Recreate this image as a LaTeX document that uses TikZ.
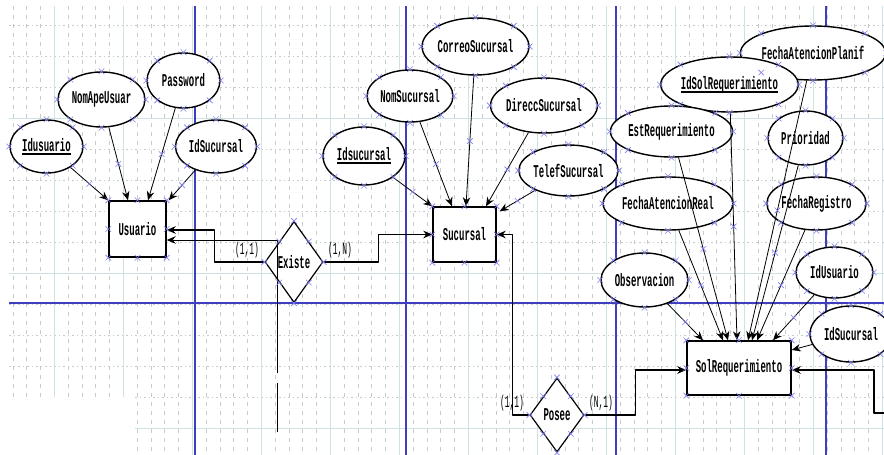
\documentclass[tikz,border=0pt]{standalone}
\usepackage{fontspec}
\newfontfamily\erfont[FakeStretch=0.5]{Liberation Mono}
\newfontfamily\cardfont[FakeStretch=0.47]{Liberation Mono}
\usetikzlibrary{shapes.geometric,shapes.misc,arrows.meta}
\definecolor{pageblue}{RGB}{62,62,190}
\definecolor{markblue}{RGB}{125,125,235}
\definecolor{gridgray}{RGB}{196,204,204}
\definecolor{gridmajor}{RGB}{206,226,228}
\newcommand\keyattr[1]{\setbox0\hbox{#1}\rlap{\rule[-3.5pt]{\wd0}{1.8pt}}\box0}
\begin{document}
\begin{tikzpicture}[x=1pt,y=-1pt,line join=round,>={Stealth[length=9pt,width=7.5pt]},
    font=\erfont\bfseries\fontsize{18}{18}\selectfont,
    attr/.style={ellipse,draw,fill=white,line width=1.4pt,inner sep=0pt},
    entity/.style={rectangle,draw,fill=white,line width=1.4pt,inner sep=0pt},
    relation/.style={diamond,draw,fill=white,line width=1.2pt,inner sep=0pt},
    link/.style={line width=0.8pt},
    rellink/.style={line width=1.5pt},
    xmk/.style={cross out,draw=markblue,line width=0.6pt,minimum size=5pt,inner sep=0pt},
    card/.style={font=\cardfont\fontsize{17}{17}\selectfont}]
    \useasboundingbox (0,0) rectangle (884,455);
    % grid of the drawing sheet
    \foreach \x in {12.9,26.7,...,884} \draw[gridgray,line width=0.6pt,dash pattern=on 4pt off 5pt] (\x,6) -- (\x,455);
    \foreach \y in {25,56,...,455} \draw[gridgray,line width=0.7pt,dash pattern=on 1.5pt off 3pt] (9,\y) -- (884,\y);
    \foreach \x in {54,123,...,884} \draw[gridmajor,line width=0.8pt] (\x,6) -- (\x,455);
    \foreach \y in {118,273,428} \draw[gridmajor,line width=0.8pt] (9,\y) -- (884,\y);
    \fill[white] (0,397) rectangle (135,455);
    \foreach \x in {195,406,616,826} \draw[pageblue,line width=1.3pt] (\x,6) -- (\x,455);
    \draw[pageblue,line width=1.6pt] (9,303) -- (884,303);

    % Usuario
    \node[attr,minimum width=73pt,minimum height=53pt] (idusuario) at (46.5,146.5) {\keyattr{Idusuario}};
    \node[attr,minimum width=87pt,minimum height=55pt] (nomapeusuar) at (101.5,99.5) {NomApeUsuar};
    \node[attr,minimum width=73pt,minimum height=55pt] (password) at (183.5,80.5) {Password};
    \node[attr,minimum width=81pt,minimum height=53pt] (idsucursalU) at (216,146.5) {IdSucursal};
    \node[entity,minimum width=57pt,minimum height=56pt] (usuario) at (137.5,229) {Usuario};

    % Sucursal
    \node[attr,minimum width=82pt,minimum height=58pt] (idsucursal) at (364,156) {\keyattr{Idsucursal}};
    \node[attr,minimum width=86pt,minimum height=52pt] (nomsucursal) at (410,96) {NomSucursal};
    \node[attr,minimum width=103pt,minimum height=57pt] (correosucursal) at (475.5,46.5) {CorreoSucursal};
    \node[attr,minimum width=102pt,minimum height=55pt] (direccsucursal) at (544,105.5) {DireccSucursal};
    \node[attr,minimum width=93pt,minimum height=51pt] (telefsucursal) at (568.5,170.5) {TelefSucursal};
    \node[entity,minimum width=63pt,minimum height=55pt] (sucursal) at (464.5,234.5) {Sucursal};

    % SolRequerimiento
    \node[attr,minimum width=128pt,minimum height=54pt] (fechaplanif) at (813,53) {FechaAtencionPlanif};
    \node[attr,minimum width=125pt,minimum height=55pt] (idsolreq) at (729.5,84.5) {\keyattr{IdSolRequerimiento}};
    \node[attr,minimum width=111pt,minimum height=51pt] (estreq) at (671.5,131.5) {EstRequerimiento};
    \node[attr,minimum width=75pt,minimum height=54pt] (prioridad) at (805.5,138) {Prioridad};
    \node[attr,minimum width=118pt,minimum height=53pt] (fechareal) at (668,203.5) {FechaAtencionReal};
    \node[attr,minimum width=97pt,minimum height=53pt] (fecharegistro) at (816.5,203.5) {FechaRegistro};
    \node[attr,minimum width=87pt,minimum height=54pt] (observacion) at (644.5,280) {Observacion};
    \node[attr,minimum width=77pt,minimum height=51pt] (idusuarioS) at (834.5,272.5) {IdUsuario};
    \node[attr,minimum width=82pt,minimum height=56pt] (idsucursalS) at (851,334) {IdSucursal};
    \node[entity,minimum width=104pt,minimum height=54pt] (solreq) at (739,368) {SolRequerimiento};

    % relaciones
    \node[relation,minimum width=58pt,minimum height=81pt] (existe) at (294,262) {Existe};
    \node[relation,minimum width=54pt,minimum height=74pt] (posee) at (557,415) {Posee};

    \draw[link,->] (idusuario) -- node[xmk]{} (usuario.north west);
    \draw[link,->] (nomapeusuar) -- node[xmk]{} ([xshift=-9.5pt]usuario.north);
    \draw[link,->] (password) -- node[xmk]{} ([xshift=10.5pt]usuario.north);
    \draw[link,->] (idsucursalU) -- node[xmk]{} ([xshift=2pt]usuario.north east);

    \draw[link,->] (idsucursal) -- node[xmk]{} (sucursal.north west);
    \draw[link,->] (nomsucursal) -- node[xmk]{} ([xshift=-12.5pt]sucursal.north);
    \draw[link,->] (correosucursal) -- node[xmk]{} ([xshift=1.5pt]sucursal.north);
    \draw[link,->] (direccsucursal) -- node[xmk]{} ([xshift=21.5pt]sucursal.north);
    \draw[link,->] (telefsucursal) -- node[xmk]{} ([xshift=3pt,yshift=-5pt]sucursal.north east);

    \draw[link,->] (observacion) -- node[xmk]{} ([xshift=-36pt]solreq.north);
    \draw[link,->] (fechareal) -- node[xmk]{} ([xshift=-16pt]solreq.north);
    \draw[link,->] (estreq) -- node[xmk]{} ([xshift=-11pt]solreq.north);
    \draw[link,->] (idsolreq) -- node[xmk]{} ([xshift=-2pt]solreq.north);
    \draw[link,->] (fechaplanif) -- node[xmk]{} ([xshift=9pt]solreq.north);
    \draw[link,->] (prioridad) -- node[xmk]{} ([xshift=13pt]solreq.north);
    \draw[link,->] (fecharegistro) -- node[xmk]{} ([xshift=18pt]solreq.north);
    \draw[link,->] (idusuarioS) -- node[xmk]{} ([xshift=34pt]solreq.north);
    \draw[link,->] (idsucursalS) -- ([yshift=18pt]solreq.east);

    \coordinate (cutTop) at (277,373);
    \coordinate (cutBot) at (277,383);
    \coordinate (dropEnd) at (277,432);
    \coordinate (offpage) at (884,413);
    \draw[rellink,->] (existe.west) -- ++(-50,0) |- ([yshift=-1pt]usuario.east);
    \draw[link,->] (cutTop) |- ([yshift=-11pt]usuario.east);
    \draw[link] (cutBot) -- (dropEnd);
    \draw[rellink,->] (existe.east) -- ++(55,0) |- (sucursal.west);
    \draw[rellink,->] (posee.west) -- ++(-17,0) |- (sucursal.east);
    \draw[rellink,->] (posee.east) -- ++(51,0) |- ([yshift=-2pt]solreq.west);
    \draw[rellink,->] (offpage) -- ++(-10,0) |- ([yshift=-2pt]solreq.east);

    \node[card] (card11a) at (247,250) {(1,1)};
    \node[card] (card1n) at (340,250) {(1,N)};
    \node[card] (card11b) at (512,403) {(1,1)};
    \node[card] (cardn1) at (601,403) {(N,1)};

    \foreach \n in {idusuario,nomapeusuar,password,idsucursalU,usuario,idsucursal,nomsucursal,correosucursal,direccsucursal,telefsucursal,sucursal,fechaplanif,idsolreq,estreq,prioridad,fechareal,fecharegistro,observacion,idusuarioS,idsucursalS,solreq,existe,posee}
        \foreach \a in {north,south,east,west,north east,north west,south east,south west}
            \node[xmk] at (\n.\a) {};
\end{tikzpicture}
\end{document}
